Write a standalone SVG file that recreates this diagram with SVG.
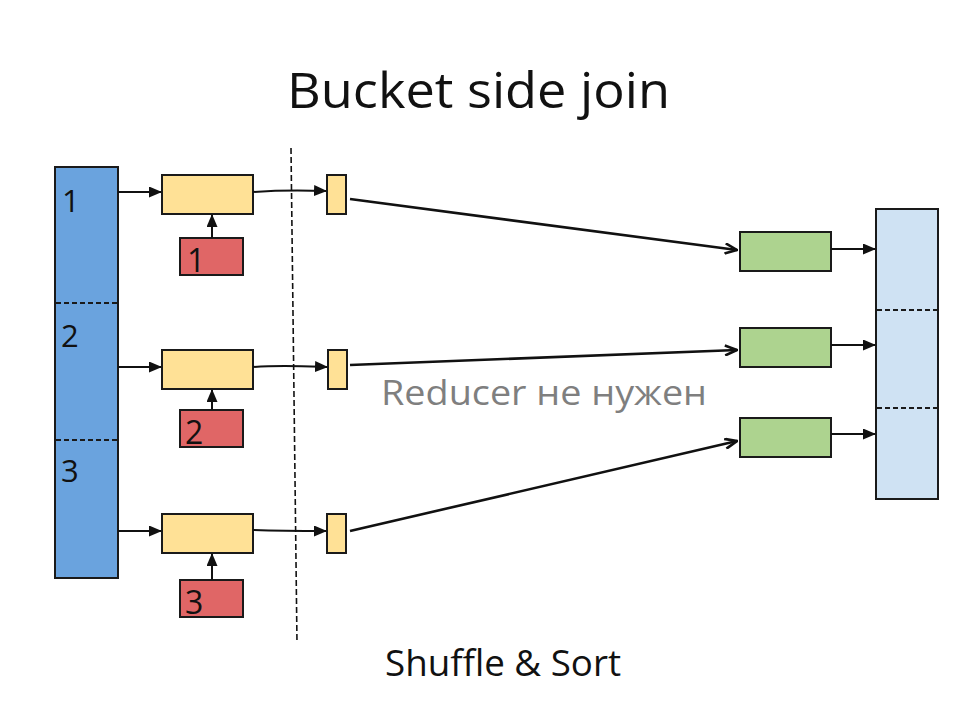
<svg xmlns="http://www.w3.org/2000/svg" width="957" height="718" viewBox="0 0 957 718">
<style>
  .box{stroke:#1a1a1a;stroke-width:2}
  .blue{fill:#6aa3de}
  .lblue{fill:#cfe2f3}
  .yel{fill:#ffe196}
  .red{fill:#e06666}
  .grn{fill:#add38f}
  .div{stroke:#1a1a1a;stroke-width:2;stroke-dasharray:5,3;fill:none}
  .c{stroke:#111;stroke-width:2;fill:none}
  .cl{stroke:#111;stroke-width:2.6;fill:none}
  .t{font-family:"Open Sans","Liberation Sans",sans-serif;fill:#111}
</style>
<defs>
  <marker id="fa" viewBox="0 0 13 11" refX="12" refY="5.5" markerWidth="13" markerHeight="11" markerUnits="userSpaceOnUse" orient="auto">
    <path d="M0,0 L13,5.5 L0,11 z" fill="#111"/>
  </marker>
  <marker id="oa" viewBox="0 0 14 12" refX="13" refY="6" markerWidth="14" markerHeight="12" markerUnits="userSpaceOnUse" orient="auto">
    <path d="M1,1 L13,6 L1,11" fill="none" stroke="#111" stroke-width="2.6"/>
  </marker>
</defs>
<rect width="957" height="718" fill="#fff"/>
<text class="t" x="287" y="108" font-size="50" textLength="383" lengthAdjust="spacingAndGlyphs">Bucket side join</text>

<g id="source">
  <rect class="box blue" x="55" y="167" width="63" height="411"/>
  <line class="div" x1="56" y1="303" x2="117" y2="303"/>
  <line class="div" x1="56" y1="440" x2="117" y2="440"/>
  <text class="t" x="62" y="212" font-size="31">1</text>
  <text class="t" x="61" y="347" font-size="31">2</text>
  <text class="t" x="61" y="482" font-size="31">3</text>
</g>

<g id="map1"><rect class="box yel" x="162" y="175" width="91" height="39"/></g>
<g id="map2"><rect class="box yel" x="162" y="350" width="91" height="39"/></g>
<g id="map3"><rect class="box yel" x="162" y="514" width="91" height="39"/></g>

<g id="bucket1"><rect class="box red" x="180" y="238" width="63" height="37"/><text class="t" x="187" y="272" font-size="32">1</text></g>
<g id="bucket2"><rect class="box red" x="180" y="410" width="63" height="37"/><text class="t" x="185" y="444" font-size="32">2</text></g>
<g id="bucket3"><rect class="box red" x="180" y="580" width="63" height="37"/><text class="t" x="185" y="614" font-size="32">3</text></g>

<g id="out1"><rect class="box yel" x="327" y="175" width="19" height="39"/></g>
<g id="out2"><rect class="box yel" x="328" y="350" width="19" height="39"/></g>
<g id="out3"><rect class="box yel" x="327" y="514" width="19" height="39"/></g>

<g id="red1"><rect class="box grn" x="740" y="232" width="91" height="39"/></g>
<g id="red2"><rect class="box grn" x="740" y="328" width="91" height="39"/></g>
<g id="red3"><rect class="box grn" x="740" y="418" width="91" height="39"/></g>

<g id="result">
  <rect class="box lblue" x="876" y="209" width="62" height="290"/>
  <line class="div" x1="877" y1="310" x2="937" y2="310"/>
  <line class="div" x1="877" y1="408" x2="937" y2="408"/>
</g>

<line id="shuffle-boundary" x1="291" y1="148" x2="297" y2="643" stroke="#111" stroke-width="1.6" stroke-dasharray="6,3"/>

<g id="connectors">
  <path class="c" d="M118,192 L161,192" marker-end="url(#fa)"/>
  <path class="c" d="M118,367 L161,367" marker-end="url(#fa)"/>
  <path class="c" d="M118,531 L161,531" marker-end="url(#fa)"/>
  <path class="c" d="M212,238 L212,215" marker-end="url(#fa)"/>
  <path class="c" d="M212,410 L212,390" marker-end="url(#fa)"/>
  <path class="c" d="M212,580 L212,554" marker-end="url(#fa)"/>
  <path class="c" d="M253,192 C280,190 300,190 326,191" marker-end="url(#fa)"/>
  <path class="c" d="M253,367 C280,365 300,366 327,367" marker-end="url(#fa)"/>
  <path class="c" d="M253,530 C280,531 300,531 326,531" marker-end="url(#fa)"/>
  <path class="cl" d="M350,199 L737,250" marker-end="url(#oa)"/>
  <path class="cl" d="M350,365 L737,350" marker-end="url(#oa)"/>
  <path class="cl" d="M350,531 L737,441" marker-end="url(#oa)"/>
  <path class="c" d="M831,249 L875,249" marker-end="url(#fa)"/>
  <path class="c" d="M831,345 L875,345" marker-end="url(#fa)"/>
  <path class="c" d="M831,434 L875,434" marker-end="url(#fa)"/>
</g>

<text class="t" x="381" y="405" font-size="34" style="fill:#7f7f7f" textLength="326" lengthAdjust="spacingAndGlyphs">Reducer не нужен</text>
<text class="t" x="385" y="676" font-size="36" textLength="236" lengthAdjust="spacingAndGlyphs">Shuffle &amp; Sort</text>
</svg>
